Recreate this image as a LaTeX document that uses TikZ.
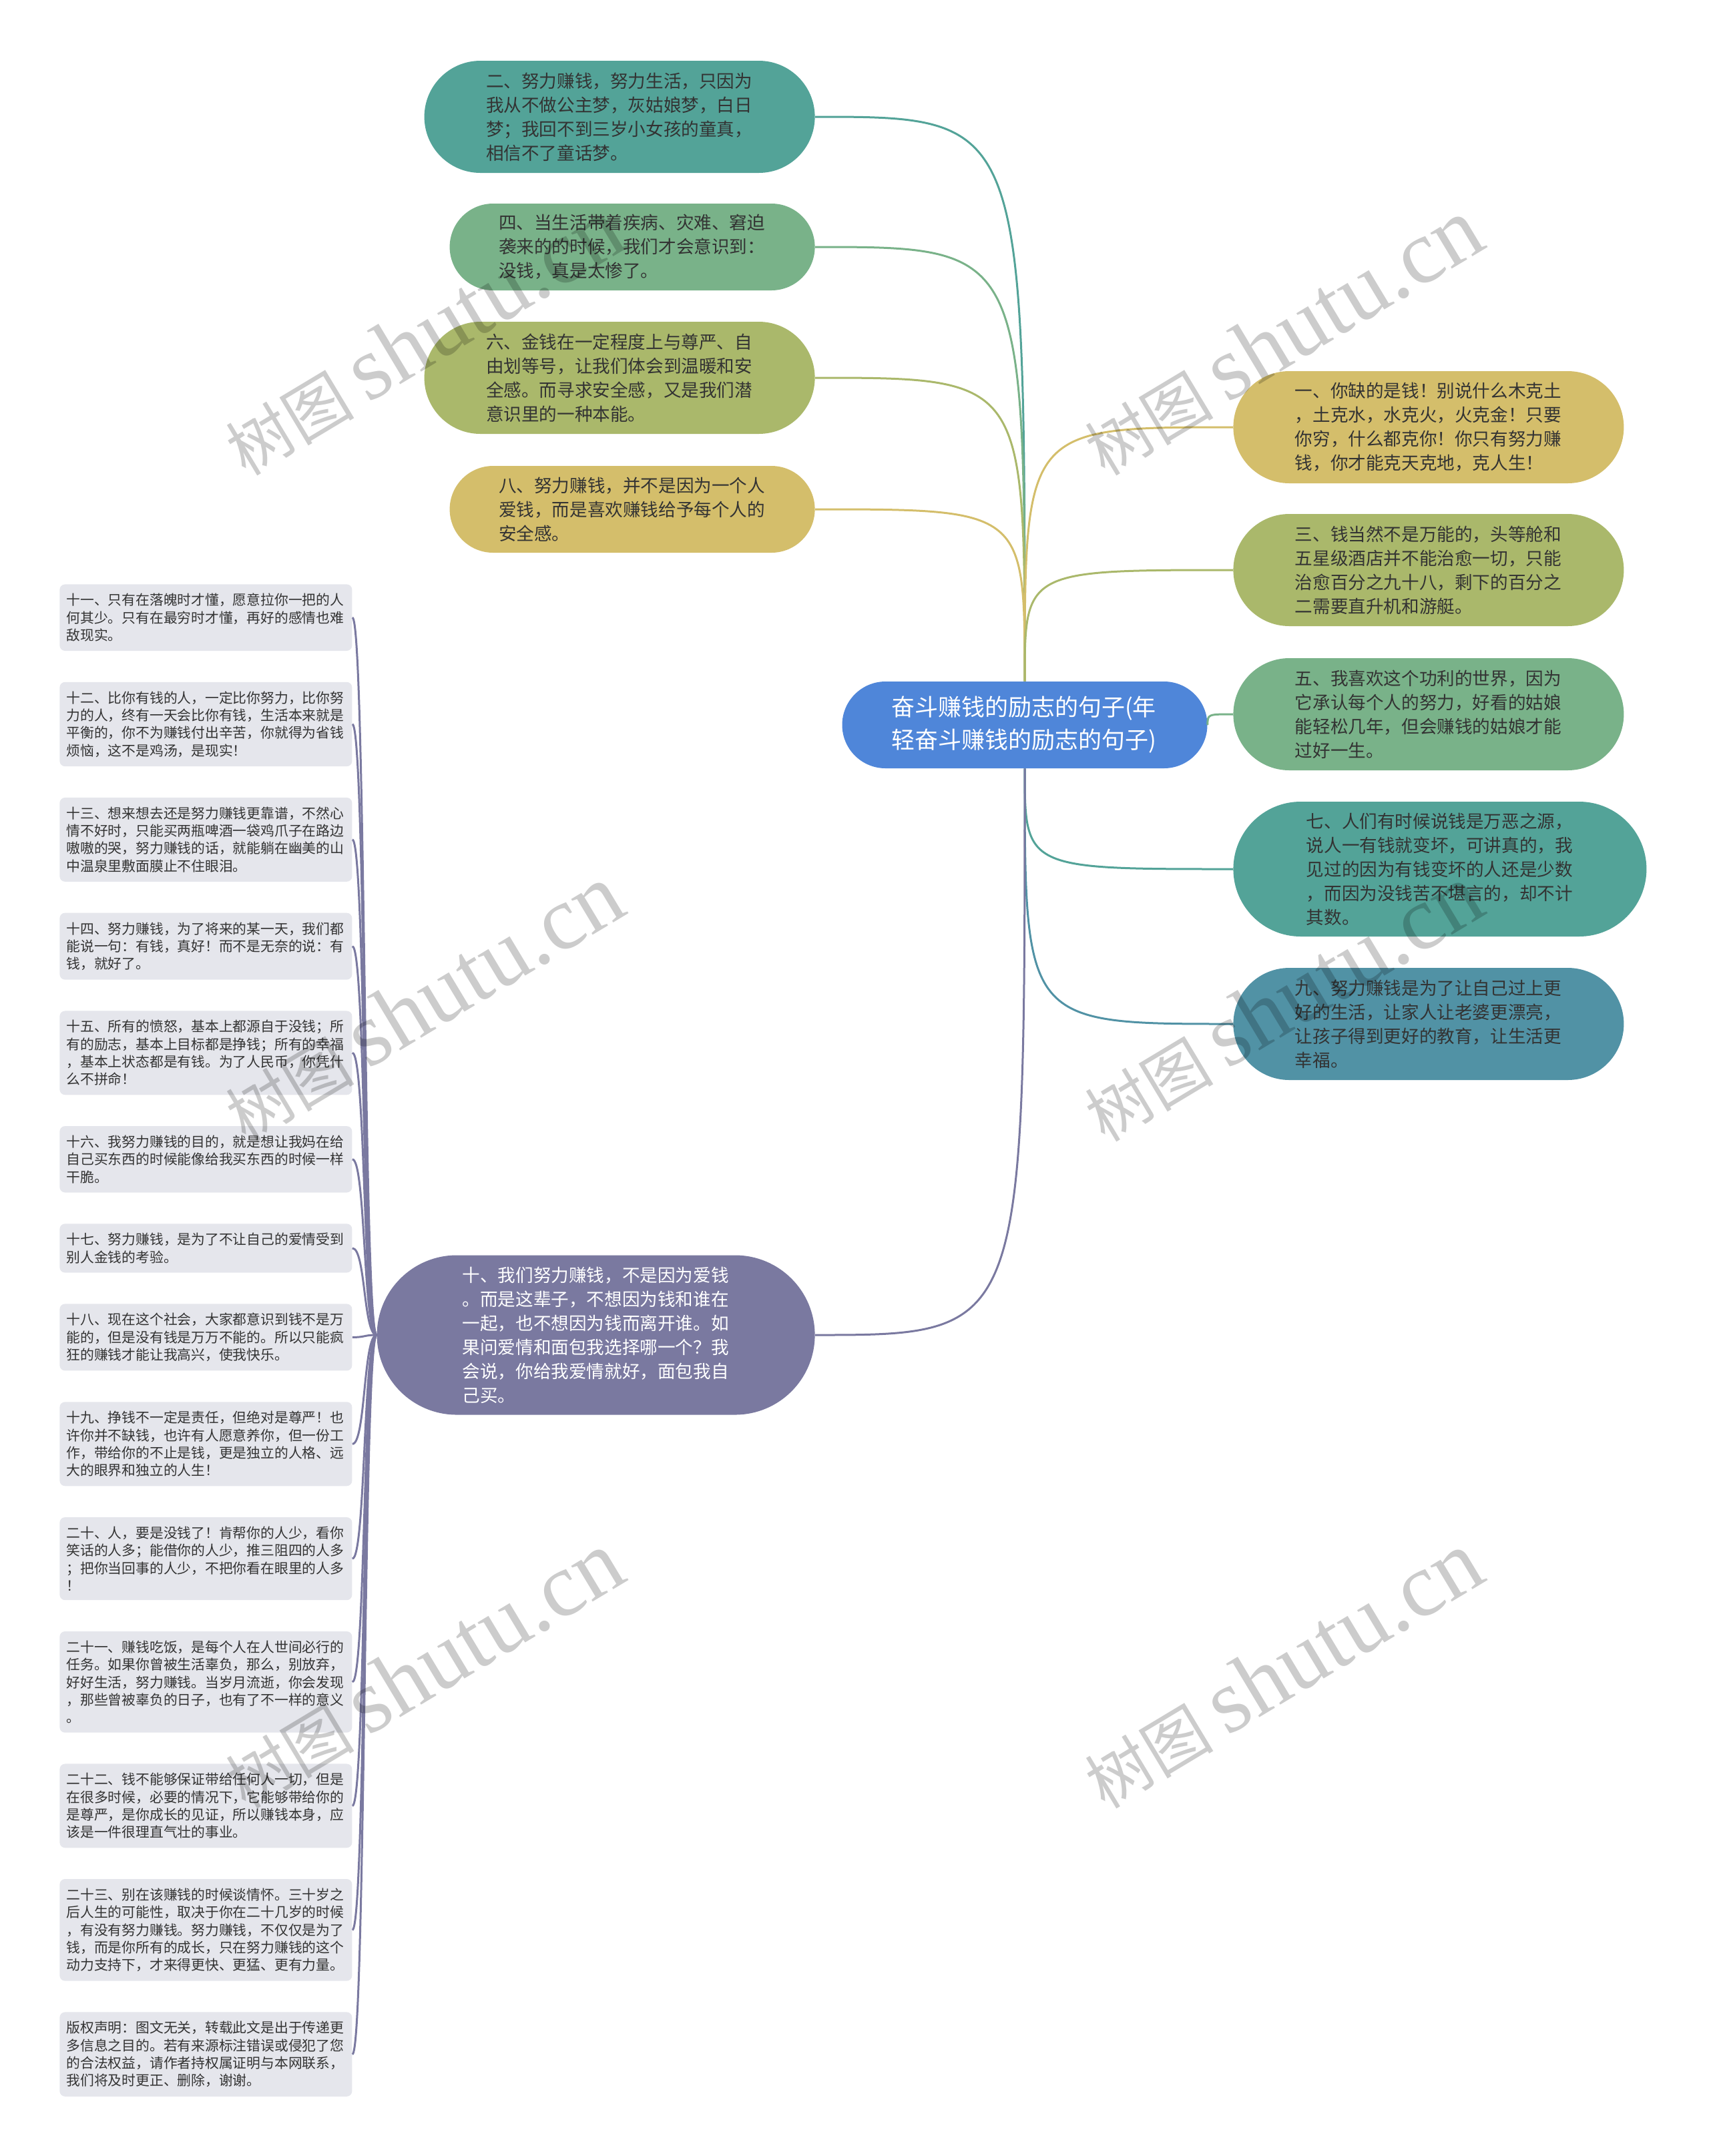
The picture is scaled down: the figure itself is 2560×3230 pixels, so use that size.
\documentclass[tikz,border=0pt]{standalone}
\usepackage{fontspec}
\setmainfont{Noto Sans CJK SC}
\newfontfamily\wmlatin{Liberation Serif}
\usepackage{tikz}
\usetikzlibrary{positioning}
\definecolor{cRoot}{RGB}{79,134,217}
\definecolor{cTeal}{RGB}{83,163,152}
\definecolor{cGreen}{RGB}{121,178,137}
\definecolor{cOlive}{RGB}{170,184,107}
\definecolor{cGold}{RGB}{212,190,107}
\definecolor{cSea}{RGB}{81,146,165}
\definecolor{cPurple}{RGB}{122,121,160}
\definecolor{cNote}{RGB}{229,230,236}
\definecolor{cInk}{RGB}{51,51,51}

\begin{document}
\begin{tikzpicture}[x=0.5pt, y=-0.5pt,
    pill/.style 2 args={fill=#1, text=cInk, text width=200pt, align=left,
        minimum height=#2, rounded corners=0.5*#2, inner xsep=0.5*#2+4.25pt, inner ysep=0pt,
        font=\fontsize{13.3}{18}\selectfont},
    note/.style={fill=cNote, rounded corners=4pt, text=cInk, text width=209pt, align=left,
        inner xsep=5pt, inner ysep=6.9pt, font=\fontsize{10.4}{13.15}\selectfont},
    link/.style={draw=#1, line width=1.5pt,
        to path={.. controls (\tikztostart |- \tikztotarget) .. (\tikztotarget)}},
    twig/.style={draw=cPurple, line width=1.5pt,
        to path={.. controls +(-20,0) and +(20,0) .. (\tikztotarget)}},
    wmark/.style={rotate=31, text=black, text opacity=0.2, inner sep=0pt}]
    \useasboundingbox (0,0) rectangle (2560,3230);

    % centre
    \node[pill={cRoot}{65pt}, text=white, font=\fontsize{17.5}{24.5}\selectfont] (main) at (1535,1086)
        {奋斗赚钱的励志的句子(年\\轻奋斗赚钱的励志的句子)};

    % left branch, upper
    \node[pill={cTeal}{84pt}, anchor=east] (a2) at (1221,175)
        {二、努力赚钱，努力生活，只因为\\我从不做公主梦，灰姑娘梦，白日\\梦；我回不到三岁小女孩的童真，\\相信不了童话梦。};
    \node[pill={cGreen}{65pt}, anchor=east] (a4) at (1221,370)
        {四、当生活带着疾病、灾难、窘迫\\袭来的的时候，我们才会意识到：\\没钱，真是太惨了。};
    \node[pill={cOlive}{84pt}, anchor=east] (a6) at (1221,566)
        {六、金钱在一定程度上与尊严、自\\由划等号，让我们体会到温暖和安\\全感。而寻求安全感，又是我们潜\\意识里的一种本能。};
    \node[pill={cGold}{65pt}, anchor=east] (a8) at (1221,763)
        {八、努力赚钱，并不是因为一个人\\爱钱，而是喜欢赚钱给予每个人的\\安全感。};

    % right branch
    \node[pill={cGold}{84pt}, anchor=west] (a1) at (1847,640)
        {一、你缺的是钱！别说什么木克土\\，土克水，水克火，火克金！只要\\你穷，什么都克你！你只有努力赚\\钱，你才能克天克地，克人生！};
    \node[pill={cOlive}{84pt}, anchor=west] (a3) at (1847,854)
        {三、钱当然不是万能的，头等舱和\\五星级酒店并不能治愈一切，只能\\治愈百分之九十八，剩下的百分之\\二需要直升机和游艇。};
    \node[pill={cGreen}{84pt}, anchor=west] (a5) at (1847,1070)
        {五、我喜欢这个功利的世界，因为\\它承认每个人的努力，好看的姑娘\\能轻松几年，但会赚钱的姑娘才能\\过好一生。};
    \node[pill={cTeal}{101pt}, anchor=west] (a7) at (1847,1302)
        {七、人们有时候说钱是万恶之源，\\说人一有钱就变坏，可讲真的，我\\见过的因为有钱变坏的人还是少数\\，而因为没钱苦不堪言的，却不计\\其数。};
    \node[pill={cSea}{84pt}, anchor=west] (a9) at (1847,1534)
        {九、努力赚钱是为了让自己过上更\\好的生活，让家人让老婆更漂亮，\\让孩子得到更好的教育，让生活更\\幸福。};

    % left branch, lower
    \node[pill={cPurple}{119.5pt}, text=white, anchor=east] (a10) at (1221,2000)
        {十、我们努力赚钱，不是因为爱钱\\。而是这辈子，不想因为钱和谁在\\一起，也不想因为钱而离开谁。如\\果问爱情和面包我选择哪一个？我\\会说，你给我爱情就好，面包我自\\己买。};

    \node[note, anchor=north west] (b11) at (89,875)
        {十一、只有在落魄时才懂，愿意拉你一把的人\\何其少。只有在最穷时才懂，再好的感情也难\\敌现实。};
    \node[note] (b12) [below=23pt of b11]
        {十二、比你有钱的人，一定比你努力，比你努\\力的人，终有一天会比你有钱，生活本来就是\\平衡的，你不为赚钱付出辛苦，你就得为省钱\\烦恼，这不是鸡汤，是现实！};
    \node[note] (b13) [below=23pt of b12]
        {十三、想来想去还是努力赚钱更靠谱，不然心\\情不好时，只能买两瓶啤酒一袋鸡爪子在路边\\嗷嗷的哭，努力赚钱的话，就能躺在幽美的山\\中温泉里敷面膜止不住眼泪。};
    \node[note] (b14) [below=23pt of b13]
        {十四、努力赚钱，为了将来的某一天，我们都\\能说一句：有钱，真好！而不是无奈的说：有\\钱，就好了。};
    \node[note] (b15) [below=23pt of b14]
        {十五、所有的愤怒，基本上都源自于没钱；所\\有的励志，基本上目标都是挣钱；所有的幸福\\，基本上状态都是有钱。为了人民币，你凭什\\么不拼命！};
    \node[note] (b16) [below=23pt of b15]
        {十六、我努力赚钱的目的，就是想让我妈在给\\自己买东西的时候能像给我买东西的时候一样\\干脆。};
    \node[note] (b17) [below=23pt of b16]
        {十七、努力赚钱，是为了不让自己的爱情受到\\别人金钱的考验。};
    \node[note] (b18) [below=23pt of b17]
        {十八、现在这个社会，大家都意识到钱不是万\\能的，但是没有钱是万万不能的。所以只能疯\\狂的赚钱才能让我高兴，使我快乐。};
    \node[note] (b19) [below=23pt of b18]
        {十九、挣钱不一定是责任，但绝对是尊严！也\\许你并不缺钱，也许有人愿意养你，但一份工\\作，带给你的不止是钱，更是独立的人格、远\\大的眼界和独立的人生！};
    \node[note] (b20) [below=23pt of b19]
        {二十、人，要是没钱了！肯帮你的人少，看你\\笑话的人多；能借你的人少，推三阻四的人多\\；把你当回事的人少，不把你看在眼里的人多\\！};
    \node[note] (b21) [below=23pt of b20]
        {二十一、赚钱吃饭，是每个人在人世间必行的\\任务。如果你曾被生活辜负，那么，别放弃，\\好好生活，努力赚钱。当岁月流逝，你会发现\\，那些曾被辜负的日子，也有了不一样的意义\\。};
    \node[note] (b22) [below=23pt of b21]
        {二十二、钱不能够保证带给任何人一切，但是\\在很多时候，必要的情况下，它能够带给你的\\是尊严，是你成长的见证，所以赚钱本身，应\\该是一件很理直气壮的事业。};
    \node[note] (b23) [below=23pt of b22]
        {二十三、别在该赚钱的时候谈情怀。三十岁之\\后人生的可能性，取决于你在二十几岁的时候\\，有没有努力赚钱。努力赚钱，不仅仅是为了\\钱，而是你所有的成长，只在努力赚钱的这个\\动力支持下，才来得更快、更猛、更有力量。};
    \node[note] (bc) [below=23pt of b23]
        {版权声明：图文无关，转载此文是出于传递更\\多信息之目的。若有来源标注错误或侵犯了您\\的合法权益，请作者持权属证明与本网联系，\\我们将及时更正、删除，谢谢。};

    \path
    (main.north) edge [link=cTeal] (a2.east)
                 edge [link=cGreen] (a4.east)
                 edge [link=cOlive] (a6.east)
                 edge [link=cGold] (a8.east)
                 edge [link=cGold] (a1.west)
                 edge [link=cOlive] (a3.west)
    (main.east)  edge [link=cGreen] (a5.west)
    (main.south) edge [link=cTeal] (a7.west)
                 edge [link=cSea] (a9.west)
                 edge [link=cPurple] (a10.east);

    \path
    (a10.west) edge [twig] (b11.east) edge [twig] (b12.east)
               edge [twig] (b13.east) edge [twig] (b14.east)
               edge [twig] (b15.east) edge [twig] (b16.east)
               edge [twig] (b17.east) edge [twig] (b18.east)
               edge [twig] (b19.east) edge [twig] (b20.east)
               edge [twig] (b21.east) edge [twig] (b22.east)
               edge [twig] (b23.east) edge [twig] (bc.east);

    % watermarks
    \node[wmark] (w1) at (634,505) {\fontsize{48}{48}\selectfont 树图 \wmlatin\fontsize{68}{68}\selectfont shutu.cn};
    \node[wmark] (w2) at (1921,505) {\fontsize{48}{48}\selectfont 树图 \wmlatin\fontsize{68}{68}\selectfont shutu.cn};
    \node[wmark] (w3) at (634,1503) {\fontsize{48}{48}\selectfont 树图 \wmlatin\fontsize{68}{68}\selectfont shutu.cn};
    \node[wmark] (w4) at (1921,1503) {\fontsize{48}{48}\selectfont 树图 \wmlatin\fontsize{68}{68}\selectfont shutu.cn};
    \node[wmark] (w5) at (634,2502) {\fontsize{48}{48}\selectfont 树图 \wmlatin\fontsize{68}{68}\selectfont shutu.cn};
    \node[wmark] (w6) at (1921,2502) {\fontsize{48}{48}\selectfont 树图 \wmlatin\fontsize{68}{68}\selectfont shutu.cn};
\end{tikzpicture}
\end{document}
